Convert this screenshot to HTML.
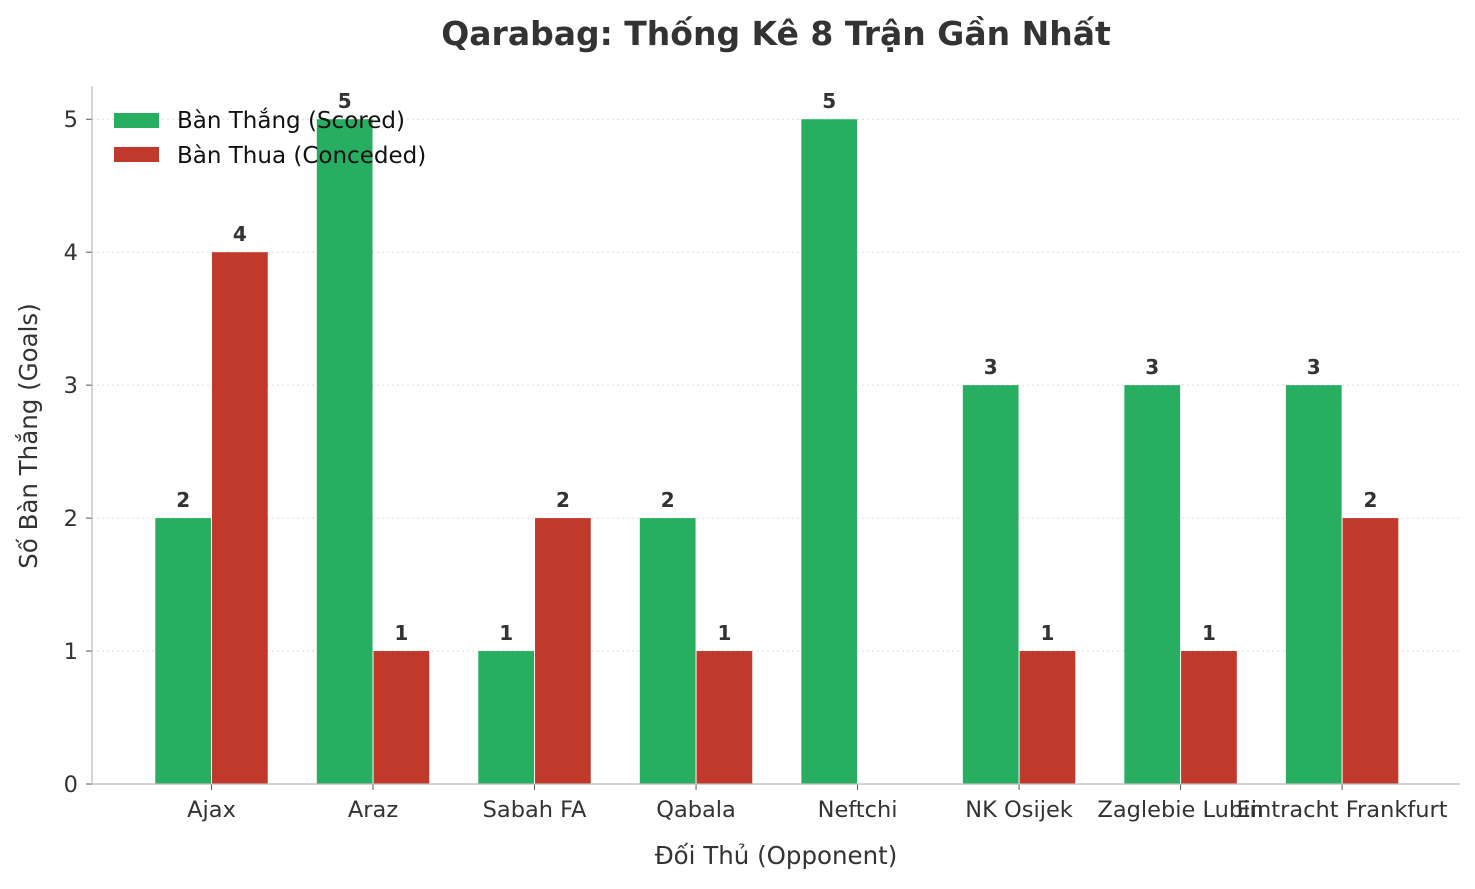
<!DOCTYPE html>
<html><head><meta charset="utf-8">
<style>
html,body{margin:0;padding:0;background:#fff;}
svg text{font-family:"DejaVu Sans","Liberation Sans",sans-serif;}
</style></head>
<body>
<svg id="chart" width="1475" height="884" xmlns="http://www.w3.org/2000/svg">
<text x="776" y="45" text-anchor="middle" font-size="33" font-weight="bold" fill="#333">Qarabag: Thống Kê 8 Trận Gần Nhất</text>
<g id="grid"></g>
<g id="bars"></g>
<g id="axes"></g>
<text x="776" y="864" text-anchor="middle" font-size="24.5" fill="#333">Đối Thủ (Opponent)</text>
<text transform="translate(37,436) rotate(-90)" text-anchor="middle" font-size="24.5" fill="#333">Số Bàn Thắng (Goals)</text>
<g>
<rect x="114" y="113" width="45" height="15" fill="#27ae60"/>
<text x="177" y="128" font-size="23" fill="#111">Bàn Thắng (Scored)</text>
<rect x="114" y="147" width="45" height="15" fill="#c0392b"/>
<text x="177" y="163" font-size="23" fill="#111">Bàn Thua (Conceded)</text>
</g>
</svg>
<script>
const categories = ["Ajax","Araz","Sabah FA","Qabala","Neftchi","NK Osijek","Zaglebie Lubin","Eintracht Frankfurt"];
const scored = [2,5,1,2,5,3,3,3];
const conceded = [4,1,2,1,0,1,1,2];
const yTicks = [0,1,2,3,4,5];

const NS="http://www.w3.org/2000/svg";
const L=92,R=1460,B=784,T=86;
const xmin=-0.74,xmax=7.73,ymax=5.25;
const x=v=>L+(v-xmin)/(xmax-xmin)*(R-L);
const y=v=>B-v/ymax*(B-T);
const bw=0.345*(x(1)-x(0));
function mk(tag,attrs,parent){const e=document.createElementNS(NS,tag);for(const k in attrs)e.setAttribute(k,attrs[k]);parent.appendChild(e);return e;}
const grid=document.getElementById('grid'),bars=document.getElementById('bars'),axes=document.getElementById('axes');
yTicks.forEach(t=>{
  if(t>0){const g=mk('line',{x1:L,x2:R,y1:y(t),y2:y(t),stroke:'#ddd','stroke-dasharray':'2,3','stroke-width':1},grid);
  
  }
  const tk=mk('line',{x1:L-6,x2:L,y1:y(t),y2:y(t),stroke:'#555','stroke-width':1},axes);
  
  
  const tl=mk('text',{x:L-14,y:y(t)+8,'text-anchor':'end','font-size':22.5,fill:'#333'},axes);
  tl.textContent=t;
  
  
});
function bar(i,v,off,color,name){
  const cx=x(i)+off;
  const r=mk('rect',{x:cx-bw/2,y:y(v),width:bw,height:B-y(v),fill:color},bars);
  
  
  if(v>0){const t=mk('text',{x:cx,y:y(v)-11,'text-anchor':'middle','font-size':20,'font-weight':'bold',fill:'#333'},bars);
  t.textContent=v;
  
  }
}
categories.forEach((c,i)=>{
  bar(i,scored[i],-bw/2-0.5,'#27ae60','scored');
  bar(i,conceded[i],bw/2+0.5,'#c0392b','conceded');
  const tk=mk('line',{x1:x(i),x2:x(i),y1:B,y2:B+6,stroke:'#555'},axes);
  
  
  const tl=mk('text',{x:x(i),y:B+33,'text-anchor':'middle','font-size':22.5,fill:'#333'},axes);
  tl.textContent=c;
  
  
});
const ls=mk('line',{x1:L,x2:L,y1:T,y2:B,stroke:'#bbb','stroke-width':1.2},axes);


const bs=mk('line',{x1:L,x2:R,y1:B,y2:B,stroke:'#bbb','stroke-width':1.2},axes);


</script>
</body></html>
